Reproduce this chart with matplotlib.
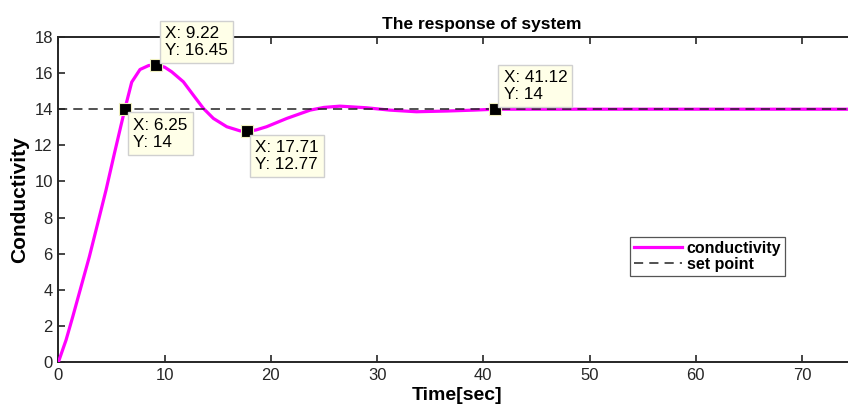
import numpy as np
import matplotlib
matplotlib.use("Agg")
import matplotlib.pyplot as plt

# curve (time in sec, conductivity)
t = [0, 0.72, 1.35, 2.13, 2.91, 3.7, 4.48, 5.27, 6.25, 6.9, 7.68, 8.5, 9.22,
     10.0, 10.67, 11.76, 12.7, 13.64, 14.59, 15.85, 17.1, 17.71, 18.6, 19.6,
     21.5, 23.7, 25.0, 26.5, 29.0, 31.2, 33.7, 36.6, 39.1, 41.12, 50.0, 60.0, 75.0]
cond = [0, 1.22, 2.51, 4.17, 5.83, 7.68, 9.52, 11.55, 14.0, 15.5, 16.2, 16.42, 16.45,
        16.33, 16.07, 15.52, 14.78, 14.05, 13.49, 13.03, 12.8, 12.77, 12.85, 13.03,
        13.49, 13.95, 14.1, 14.17, 14.08, 13.95, 13.86, 13.9, 13.95, 14.0, 14.0, 14.0, 14.0]
set_point = 14

# data tips
tip_x = [6.25, 9.22, 17.71, 41.12]
tip_y = [14, 16.45, 12.77, 14]
tip_labels = ["X: 6.25\nY: 14", "X: 9.22\nY: 16.45", "X: 17.71\nY: 12.77", "X: 41.12\nY: 14"]
tip_offsets = [(6, -6), (6, 5), (6, -6), (6, 5)]

narrow = ['Liberation Sans Narrow', 'Liberation Sans', 'DejaVu Sans']
plt.rcParams['font.family'] = ['Liberation Sans', 'DejaVu Sans']

fig = plt.figure(figsize=(8.48, 4.07), dpi=100)
ax = fig.add_axes([0.0689, 0.1106, 0.9394, 0.7985])

ax.plot(t, cond, color='#FF00FF', lw=2.3, label='conductivity', zorder=3)
ax.plot([0, 75], [set_point, set_point], color='#222222', lw=1.1,
        dashes=(6, 4), label='set point', zorder=4)

ax.plot(tip_x, tip_y, 's', color='black', markersize=8,
        markeredgecolor='#F0F0C0', markeredgewidth=0.8, zorder=6)
for x, y, lab, off in zip(tip_x, tip_y, tip_labels, tip_offsets):
    va = 'top' if off[1] < 0 else 'bottom'
    ax.annotate(lab, (x, y), xytext=off, textcoords='offset points',
                ha='left', va=va, fontsize=12.3, linespacing=1.2,
                bbox=dict(boxstyle='square,pad=0.3', fc='#FFFFE8', ec='#D0D0D0', lw=1),
                zorder=7)

ax.set_xlim(0, 75)
ax.set_ylim(0, 18)
ax.set_xticks(np.arange(0, 71, 10))
ax.set_yticks(np.arange(0, 19, 2))
ax.tick_params(direction='in', length=5, width=1.2, top=True, right=True,
               labelsize=12, colors='#262626', pad=4)
for lab in ax.get_xticklabels() + ax.get_yticklabels():
    lab.set_family(narrow)
for sp in ax.spines.values():
    sp.set_color('#262626')
    sp.set_linewidth(1.4)

ax.set_title('The response of system', fontsize=12.5, fontweight='bold', pad=6, x=0.532)
ax.set_xlabel('Time[sec]', fontsize=14, fontweight='bold', family=narrow, labelpad=3)
ax.set_ylabel('Conductivity', fontsize=15, fontweight='bold', labelpad=4)

leg = ax.legend(loc='upper left', bbox_to_anchor=(0.7175, 0.385), fancybox=False,
                edgecolor='#555555', framealpha=1, borderpad=0.25, handlelength=3.0,
                handletextpad=0.3, borderaxespad=0, labelspacing=0.05,
                prop=dict(weight='bold', size=11.5))
leg.get_frame().set_linewidth(0.9)

fig.savefig('out.png', dpi=100)
